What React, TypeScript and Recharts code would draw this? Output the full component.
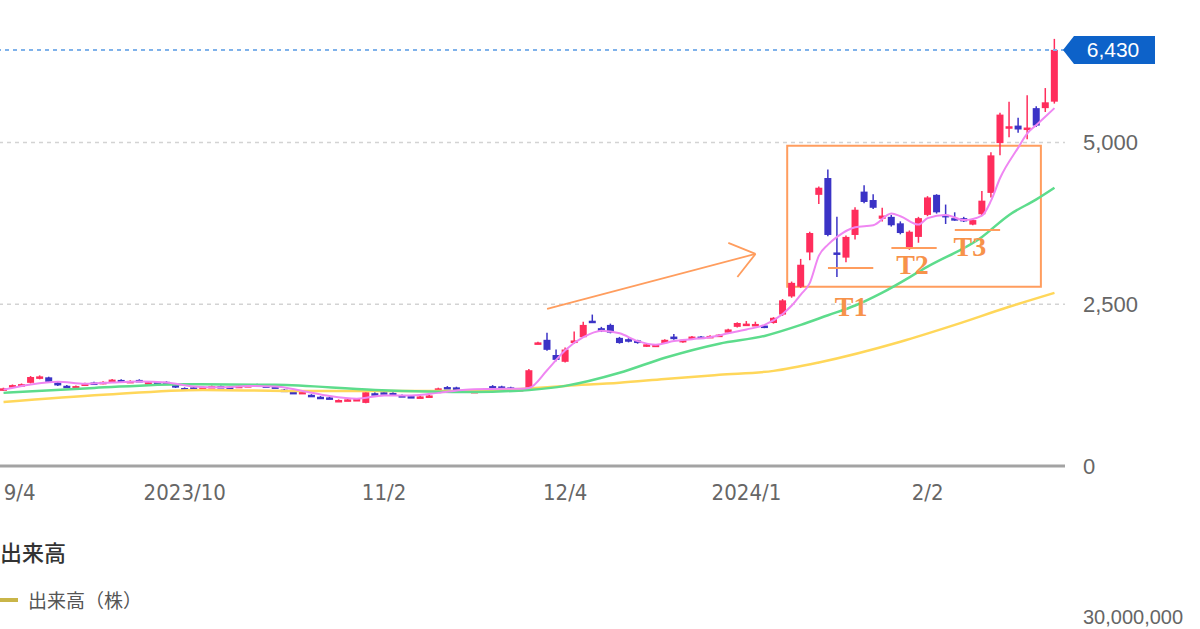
import React from "react";
import {
  ComposedChart, Bar, Line, XAxis, YAxis, CartesianGrid,
  ReferenceLine, ReferenceArea, ReferenceDot
} from "recharts";

// 営業日（2023/9 〜 2024/2）
const sepDays = [1, 4, 5, 6, 7, 8, 11, 12, 13, 14, 15, 19, 20, 21, 22, 25, 26, 27, 28, 29];
const octDays = [2, 3, 4, 5, 6, 10, 11, 12, 13, 16, 17, 18, 19, 20, 23, 24, 25, 26, 27, 30, 31];
const novDays = [1, 2, 6, 7, 8, 9, 10, 13, 14, 15, 16, 17, 20, 21, 22, 24, 27, 28, 29, 30];
const decDays = [1, 4, 5, 6, 7, 8, 11, 12, 13, 14, 15, 18, 19, 20, 21, 22, 25, 26, 27, 28, 29];
const janDays = [4, 5, 9, 10, 11, 12, 15, 16, 17, 18, 19, 22, 23, 24, 25, 26, 29, 30, 31];
const febDays = [1, 2, 5, 6, 7, 8, 9, 13, 14, 15, 16, 19, 20, 21, 22, 26];

const dates = [
  ...sepDays.map((d) => `2023/9/${d}`),
  ...octDays.map((d) => `2023/10/${d}`),
  ...novDays.map((d) => `2023/11/${d}`),
  ...decDays.map((d) => `2023/12/${d}`),
  ...janDays.map((d) => `2024/1/${d}`),
  ...febDays.map((d) => `2024/2/${d}`),
];

const openPx = [
  1170, 1215, 1240, 1285, 1350, 1370, 1290, 1240, 1200, 1250,
  1290, 1270, 1300, 1330, 1295, 1330, 1280, 1295, 1300, 1250,
  1205, 1215, 1195, 1215, 1235, 1225, 1215, 1235, 1260, 1245,
  1230, 1180, 1145, 1130, 1100, 1070, 1060, 1000, 1010, 1020,
  975, 1125, 1140, 1130, 1095, 1080, 1050, 1065, 1175, 1220,
  1215, 1175, 1140, 1160, 1235, 1230, 1215, 1170, 1180, 1890,
  1950, 1715, 1610, 1900, 1990, 2245, 2130, 2180, 1980, 1960,
  1940, 1850, 1850, 1900, 2000, 1910, 1985, 2000, 1990, 2010,
  2060, 2150, 2180, 2180, 2170, 2210, 2340, 2620, 2770, 3300,
  4190, 4450, 3300, 3220, 3570, 4240, 4110, 3820, 3850, 3750,
  3370, 3540, 3880, 4190, 3880, 3830, 3830, 3730, 3890, 4220,
  4990, 5230, 5260, 5210, 5530, 5530, 5630,
];

const highPx = [
  1210, 1260, 1275, 1390, 1400, 1380, 1300, 1250, 1245, 1285,
  1300, 1310, 1345, 1340, 1325, 1340, 1305, 1305, 1310, 1260,
  1215, 1225, 1225, 1245, 1245, 1235, 1250, 1260, 1270, 1255,
  1240, 1190, 1155, 1155, 1110, 1080, 1070, 1030, 1040, 1045,
  1150, 1140, 1150, 1140, 1105, 1090, 1085, 1100, 1210, 1235,
  1225, 1185, 1170, 1195, 1250, 1240, 1225, 1200, 1500, 1920,
  2060, 1800, 1830, 2080, 2230, 2340, 2150, 2200, 1995, 1975,
  1950, 1890, 1885, 1960, 2040, 1960, 2010, 2010, 2020, 2040,
  2120, 2220, 2240, 2230, 2180, 2300, 2580, 2850, 3200, 3620,
  4320, 4580, 3850, 3560, 4000, 4340, 4200, 3990, 3880, 3780,
  3640, 3850, 4170, 4200, 4040, 3920, 3850, 3820, 4250, 4850,
  5460, 5630, 5380, 5730, 5560, 5840, 6600,
];

const lowPx = [
  1160, 1205, 1230, 1275, 1340, 1290, 1235, 1205, 1195, 1245,
  1260, 1265, 1295, 1295, 1290, 1300, 1275, 1270, 1280, 1205,
  1180, 1190, 1190, 1210, 1205, 1200, 1210, 1230, 1240, 1225,
  1210, 1145, 1115, 1125, 1070, 1045, 1040, 995, 1005, 1015,
  970, 1100, 1110, 1105, 1065, 1050, 1045, 1060, 1170, 1195,
  1190, 1155, 1135, 1155, 1210, 1205, 1190, 1165, 1170, 1880,
  1780, 1620, 1600, 1890, 1980, 2220, 2070, 2050, 1890, 1910,
  1890, 1840, 1845, 1895, 1950, 1905, 1980, 1975, 1985, 2005,
  2050, 2140, 2170, 2170, 2130, 2200, 2320, 2600, 2750, 3180,
  4050, 3550, 2920, 3150, 3500, 4060, 3970, 3780, 3700, 3580,
  3340, 3450, 3860, 3900, 3740, 3790, 3770, 3720, 3870, 4150,
  4800, 5080, 5150, 5050, 5240, 5470, 5600,
];

const closePx = [
  1200, 1250, 1265, 1375, 1385, 1300, 1245, 1215, 1235, 1275,
  1270, 1300, 1335, 1305, 1315, 1310, 1295, 1280, 1290, 1215,
  1185, 1200, 1215, 1235, 1215, 1210, 1240, 1250, 1245, 1235,
  1215, 1150, 1120, 1145, 1075, 1050, 1045, 1020, 1030, 1035,
  1140, 1105, 1115, 1110, 1070, 1055, 1075, 1090, 1200, 1200,
  1195, 1160, 1160, 1185, 1215, 1210, 1195, 1190, 1480, 1910,
  1795, 1640, 1800, 1940, 2180, 2225, 2080, 2060, 1900, 1920,
  1900, 1880, 1875, 1950, 1960, 1950, 2000, 1985, 2010, 2030,
  2110, 2210, 2200, 2195, 2140, 2290, 2560, 2830, 3110, 3600,
  4300, 3570, 3270, 3540, 3960, 4080, 3990, 3870, 3720, 3600,
  3620, 3830, 4150, 3920, 3860, 3800, 3780, 3800, 4100, 4800,
  5430, 5250, 5200, 5230, 5260, 5620, 6430,
];

// 移動平均線（画像から読んだ点: [日のindex, 値]）
const maShort = [
  [0, 1180], [3, 1260], [6, 1300], [9, 1270], [12, 1290], [15, 1305], [18, 1290],
  [21, 1230], [24, 1215], [27, 1235], [30, 1230], [33, 1160], [36, 1080], [39, 1040],
  [42, 1090], [45, 1090], [48, 1130], [51, 1180], [54, 1190], [57, 1195], [58, 1206],
  [60, 1480], [62, 1790], [64, 1990], [66, 2090], [68, 2050], [70, 1930], [72, 1875],
  [74, 1930], [76, 1960], [78, 1990], [80, 2050], [82, 2110], [84, 2180], [86, 2350],
  [87, 2480], [88, 2650], [89, 2830], [90, 3250], [91, 3420], [92, 3540], [94, 3690],
  [96, 3720], [98, 3900], [99, 3860], [101, 3730], [102, 3830], [104, 3880], [106, 3800],
  [108, 3870], [109, 4100], [110, 4450], [112, 4920], [113, 5140], [114, 5270], [116, 5530],
];
const maMid = [
  [0, 1130], [10, 1206], [20, 1265], [30, 1254], [41, 1176], [52, 1145], [58, 1176],
  [62, 1238], [68, 1440], [73, 1672], [79, 1890], [84, 2010], [88, 2180], [91, 2330],
  [94, 2480], [97, 2680], [102, 3080], [108, 3540], [111, 3880], [114, 4120], [116, 4300],
];
const maLong = [
  [0, 990], [11, 1100], [22, 1176], [33, 1160], [44, 1160], [53, 1160], [57, 1190],
  [62, 1238], [68, 1285], [73, 1345], [79, 1409], [85, 1470], [90, 1600], [99, 1920],
  [105, 2180], [111, 2460], [116, 2675],
];

const tickDates = ["2023/9/4", "2023/10/2", "2023/11/2", "2023/12/4", "2024/1/4", "2024/2/2"];
const tickLabels = ["9/4", "2023/10", "11/2", "12/4", "2024/1", "2/2"];
const yTicks = [0, 2500, 5000];
const lastPrice = 6430;

const UP = "#ff2d5c";
const DOWN = "#3b33c6";
const ORANGE = "#ff9d5e";

const pick = (pts: number[][], i: number) => {
  const f = pts.find((p) => p[0] === i);
  return f ? f[1] : null;
};

const rows = dates.map((date, i) => ({
  date,
  open: openPx[i],
  high: highPx[i],
  low: lowPx[i],
  close: closePx[i],
  maS: pick(maShort, i),
  maM: pick(maMid, i),
  maL: pick(maLong, i),
}));

function Candle(props: any) {
  const { x, y, width, height, payload } = props;
  if (!payload) return null;
  const { open, close, high, low } = payload;
  const top = Math.min(y, y + height);
  const h = Math.abs(height);
  const k = h / (high - low);
  const color = close >= open ? UP : DOWN;
  const cx = x + width / 2;
  const bodyTop = top + (high - Math.max(open, close)) * k;
  const bodyH = Math.max(Math.abs(close - open) * k, 2.5);
  return (
    <g>
      <line x1={cx} x2={cx} y1={top} y2={top + h} stroke={color} strokeWidth={1.5} />
      <rect x={cx - 3.5} y={bodyTop} width={7} height={bodyH} fill={color} />
    </g>
  );
}

function PriceTag(props: any) {
  const vb = props.viewBox;
  if (!vb) return null;
  const r = vb.x + vb.width;
  const cy = vb.y;
  const pts = `${r - 2},${cy} ${r + 9},${cy - 14} ${r + 90},${cy - 14} ${r + 90},${cy + 14} ${r + 9},${cy + 14}`;
  return (
    <g>
      <polygon points={pts} fill="#0d62c9" />
      <text x={r + 48} y={cy} textAnchor="middle" dominantBaseline="central"
        fill="#fff" fontSize={21} fontFamily="Liberation Sans, Arial, sans-serif">
        {lastPrice.toLocaleString("en-US")}
      </text>
    </g>
  );
}

const xFont = "'DejaVu Sans Condensed', 'Liberation Sans', Arial, sans-serif";

// 日付ラベル（左端のラベルは画面内に収める）
function DateTick(props: any) {
  const { x, y, payload } = props;
  const idx = tickDates.indexOf(payload.value);
  const dx = idx === 0 ? 7 : 0;
  return (
    <text x={x + dx} y={y} dy="0.71em" textAnchor="middle" fill="#666" fontSize={22} fontFamily={xFont}>
      {tickLabels[idx]}
    </text>
  );
}

const tLabel = (txt: string, dx: number) => (p: any) => (
  <text x={p.cx + dx} y={p.cy} textAnchor="middle" dominantBaseline="central"
    fill="#f7924a" fontSize={28} fontWeight="bold" fontFamily="Liberation Serif, serif">
    {txt}
  </text>
);

const seg = (i1: number, v1: number, i2: number, v2: number) =>
  [{ x: dates[i1], y: v1 }, { x: dates[i2], y: v2 }];

export default function App() {
  return (
    <div style={{ position: "fixed", left: 0, top: 0, width: 1200, height: 629, overflow: "hidden", background: "#fff" }}>
      <div style={{ position: "absolute", left: -1, top: 0 }}>
        <ComposedChart
          width={1201}
          height={629}
          data={rows}
          margin={{ top: 13, right: 0, bottom: 103, left: 0 }}
        >
          <CartesianGrid vertical={false} horizontalValues={[2500, 5000]} stroke="#d3d3d3" strokeDasharray="4 4" strokeWidth={1.5} />

          <XAxis
            dataKey="date"
            ticks={tickDates}
            interval={0}
            tickLine={false}
            tickSize={0}
            tickMargin={18}
            height={60}
            padding={{ left: 0, right: 6 }}
            axisLine={{ stroke: "#a3a3a3", strokeWidth: 3 }}
            tick={<DateTick />}
          />
          <YAxis
            orientation="right"
            domain={[0, 7000]}
            ticks={yTicks}
            tickFormatter={(v) => Number(v).toLocaleString("en-US")}
            axisLine={false}
            tickLine={false}
            tickSize={0}
            tickMargin={18}
            width={135}
            tick={{ fill: "#666", fontSize: 22, fontFamily: "Liberation Sans, Arial, sans-serif", textAnchor: "start" }}
          />

          {/* 移動平均線 */}
          <Line dataKey="maL" type="monotone" stroke="#ffd75a" strokeWidth={2.5} dot={false} activeDot={false} connectNulls isAnimationActive={false} />
          <Line dataKey="maM" type="monotone" stroke="#5ddc8c" strokeWidth={2.5} dot={false} activeDot={false} connectNulls isAnimationActive={false} />

          {/* ローソク足 */}
          <Bar dataKey={(d: any) => [d.low, d.high]} shape={<Candle />} isAnimationActive={false} />

          <Line dataKey="maS" type="monotone" stroke="#ef86f2" strokeWidth={2} dot={false} activeDot={false} connectNulls isAnimationActive={false} />

          {/* 現在値 */}
          <ReferenceLine y={lastPrice} stroke="#7fb2ea" strokeDasharray="4 4" strokeWidth={2} label={<PriceTag />} />

          {/* 書き込み */}
          <ReferenceArea x1={dates[87]} x2={dates[114]} y1={2770} y2={4950} fill="none" fillOpacity={0} stroke={ORANGE} strokeWidth={2} />
          <ReferenceLine segment={seg(60, 2427, 83, 3277)} stroke={ORANGE} strokeWidth={1.8} />
          <ReferenceLine segment={seg(80, 3447, 83, 3277)} stroke={ORANGE} strokeWidth={1.8} />
          <ReferenceLine segment={seg(81, 2921, 83, 3277)} stroke={ORANGE} strokeWidth={1.8} />

          <ReferenceLine segment={seg(91, 3060, 96, 3060)} stroke={ORANGE} strokeWidth={2} />
          <ReferenceLine segment={seg(98, 3370, 103, 3370)} stroke={ORANGE} strokeWidth={2} />
          <ReferenceLine segment={seg(105, 3648, 110, 3648)} stroke={ORANGE} strokeWidth={2} />

          <ReferenceDot x={dates[94]} y={2457} r={0} shape={tLabel("T1", -4)} />
          <ReferenceDot x={dates[100]} y={3107} r={0} shape={tLabel("T2", 3)} />
          <ReferenceDot x={dates[107]} y={3385} r={0} shape={tLabel("T3", -3)} />
        </ComposedChart>
      </div>

      {/* 出来高 */}
      <div style={{ position: "absolute", left: 0, top: 537, fontSize: 22, fontWeight: 500, color: "#333", fontFamily: "'Noto Sans CJK JP', sans-serif", lineHeight: "28px" }}>
        出来高
      </div>
      <div style={{ position: "absolute", left: 0, top: 598, width: 18, height: 4, background: "#c9b548" }} />
      <div style={{ position: "absolute", left: 28, top: 586, fontSize: 19, color: "#555", fontFamily: "'Noto Sans CJK JP', sans-serif", lineHeight: "28px" }}>
        出来高（株）
      </div>
      <div style={{ position: "absolute", left: 1083, top: 607, fontSize: 20, color: "#666", fontFamily: "Liberation Sans, Arial, sans-serif", lineHeight: "20px" }}>
        30,000,000
      </div>
    </div>
  );
}
